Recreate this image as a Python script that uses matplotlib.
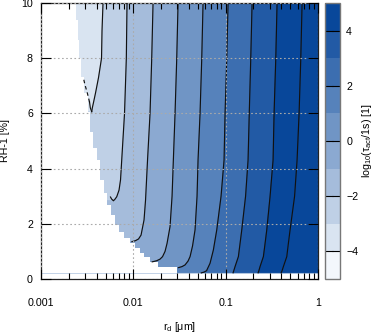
import numpy as np
import matplotlib
matplotlib.use("Agg")
import matplotlib.pyplot as plt
from matplotlib.colors import LinearSegmentedColormap, ListedColormap, BoundaryNorm
from matplotlib.cm import ScalarMappable
from matplotlib.ticker import LogLocator, FixedLocator, FixedFormatter, NullFormatter

plt.rcParams['font.family'] = ['Liberation Sans', 'DejaVu Sans']
plt.rcParams['mathtext.fontset'] = 'custom'
plt.rcParams['mathtext.rm'] = 'Liberation Sans'
plt.rcParams['mathtext.it'] = 'Liberation Sans:italic'
plt.rcParams['mathtext.bf'] = 'Liberation Sans:bold'

# ---------------- data ----------------
# contour levels of log10(tau_act / 1 s)
levels = [-3, -2, -1, 0, 1, 2, 3, 4, 5]

# each contour line from the top of the plot down to its lowest point (RH-1 [%], r_d [um])
line_rh = [
    [10, 9, 8, 7.3, 6.74, 6.4, 6.2, 6.06],
    [10, 8, 6, 4.31, 3.59, 3.22, 2.98, 2.87, 2.84],
    [10, 8, 6, 4.31, 2.86, 2.14, 1.59, 1.45, 1.39, 1.35],
    [10, 8, 6, 4.31, 3, 1.9, 1.29, 1.0, 0.81, 0.72, 0.66, 0.62],
    [10, 8, 6, 4.31, 3, 1.78, 1.2, 0.81, 0.65, 0.51, 0.45, 0.41],
    [10, 8, 6, 4.31, 3, 1.78, 1.05, 0.57, 0.3, 0.25, 0.22],
    [10, 8, 6, 4.31, 3, 1.78, 1.29, 0.81, 0.45, 0.3, 0.22],
    [10, 8, 6, 4.31, 3, 1.78, 1.29, 0.81, 0.45, 0.3, 0.22],
    [10, 8, 6, 4.31, 3, 1.78, 1.29, 0.81, 0.45, 0.3, 0.22],
]
line_rd = [
    [0.004695, 0.00458, 0.004524, 0.004198, 0.003895, 0.003706, 0.003596, 0.003543],
    [0.008545, 0.008397, 0.008028, 0.007486, 0.007266, 0.0070, 0.00661, 0.006256, 0.006071],
    [0.01635, 0.01582, 0.01517, 0.01425, 0.01356, 0.01306, 0.01212, 0.01138, 0.01056, 0.009607],
    [0.0305, 0.02952, 0.0283, 0.02713, 0.02627, 0.02498, 0.02318, 0.02205, 0.02072, 0.01946, 0.01784, 0.01594],
    [0.05689, 0.05508, 0.0528, 0.05022, 0.04898, 0.0466, 0.04379, 0.04115, 0.03914, 0.03632, 0.0337, 0.03073],
    [0.1062, 0.1028, 0.09851, 0.09607, 0.08915, 0.08009, 0.07357, 0.06774, 0.06209, 0.05833, 0.05412],
    [0.1932, 0.187, 0.1801, 0.1748, 0.1643, 0.1494, 0.1432, 0.1373, 0.1264, 0.1224, 0.1202],
    [0.3604, 0.3489, 0.3344, 0.3262, 0.3027, 0.2787, 0.2672, 0.2561, 0.2358, 0.2288, 0.2244],
    [0.6725, 0.651, 0.624, 0.5935, 0.5577, 0.4985, 0.4777, 0.459, 0.4218, 0.4083, 0.3983],
]

# short left-going tails of the J-shaped contours (level -3 and -2)
tail_m3_rh = [6.06, 6.2, 6.41]
tail_m3_rd = [0.003543, 0.003421, 0.003354]
branch_m3_rh = [6.41, 6.74, 7.03, 7.3]
branch_m3_rd = [0.003354, 0.003174, 0.002997, 0.002872]
tail_m2_rh = [2.84, 2.9, 2.97]
tail_m2_rd = [0.006071, 0.005805, 0.005662]

# edge of the non-activating (white) region: for RH-1 >= edge_rh[i] up to the next value
edge_rh = [0.22, 0.43, 0.62, 0.80, 0.94, 1.12, 1.30, 1.49, 1.70, 1.96, 2.32, 2.68,
           3.12, 3.59, 4.31, 4.75, 5.33, 6.05, 6.74, 7.32, 8.01, 8.66, 9.38, 10.0]
edge_rd = [0.0298, 0.0185, 0.0150, 0.0132, 0.0117, 0.0103, 0.0091, 0.0080, 0.0070, 0.0063,
           0.0058, 0.0052, 0.0048, 0.0044, 0.0040, 0.0037, 0.0034, 0.0032, 0.0029, 0.0027,
           0.0026, 0.0025, 0.0024, 0.0024]

band_edges = [-5, -4, -3, -2, -1, 0, 1, 2, 3, 4, 5]
x_ticks = [0.001, 0.01, 0.1, 1]
x_ticklabels = ['0.001', '0.01', '0.1', '1']
y_ticks = [0, 2, 4, 6, 8, 10]
cbar_ticks = [-4, -2, 0, 2, 4]

# ---------------- figure ----------------
W, H = 374, 336
fig = plt.figure(figsize=(W / 100, H / 100), dpi=100)
ax = fig.add_axes([41 / W, 1 - 279 / H, 277 / W, 276 / H])
cax = fig.add_axes([325 / W, 1 - 279 / H, 15 / W, 276 / H])

xmin, xmax = 0.001, 1.0
ymin, ymax = 0.0, 10.0
ax.set_xscale('log')
ax.set_xlim(xmin, xmax)
ax.set_ylim(ymin, ymax)

base = LinearSegmentedColormap.from_list('tau', ['#f3f7fc', '#08479a'])
band_cmap = ListedColormap(base(np.linspace(0, 1, len(band_edges) - 1)))
norm = BoundaryNorm(band_edges, band_cmap.N)

def band_color(v):
    return band_cmap(norm(v))

# filled bands between consecutive contour lines
n = len(levels)
for i in range(n + 1):
    pts = []
    if i == 0:
        pts.append((xmin, ymax))
        left_bottom = ymax
        color = band_color(levels[0] - 0.5)
    else:
        pts += list(zip(line_rd[i - 1], line_rh[i - 1]))
        left_bottom = line_rh[i - 1][-1]
        color = band_color(min(levels[i - 1] + 0.5, band_edges[-1] - 0.5))
    if i < n:
        right_bottom = line_rh[i][-1]
        if left_bottom > right_bottom:
            pts += [(xmin, left_bottom), (xmin, right_bottom)]
        pts += list(zip(line_rd[i], line_rh[i]))[::-1]
    else:
        pts += [(xmax, left_bottom), (xmax, ymax)]
    xs, ys = zip(*pts)
    ax.fill(xs, ys, facecolor=color, edgecolor=color, linewidth=0.6, zorder=1)

# non-activating region
ax.fill_betweenx(edge_rh, xmin, edge_rd, step='post', facecolor='white',
                 edgecolor='none', zorder=1.5)

# contour lines
lc = '#111111'
for rd, rh in zip(line_rd, line_rh):
    ax.plot(rd, rh, color=lc, lw=0.85, zorder=2, solid_capstyle='round')
ax.plot(tail_m3_rd, tail_m3_rh, color=lc, lw=0.85, zorder=2)
ax.plot(tail_m2_rd, tail_m2_rh, color=lc, lw=0.85, zorder=2)
ax.plot(branch_m3_rd, branch_m3_rh, color=lc, lw=0.85, zorder=2,
        linestyle=(0, (3.0, 2.5)))

# axes styling
fs = 7.7
ax.set_axisbelow(False)
ax.xaxis.set_major_locator(FixedLocator(x_ticks))
ax.xaxis.set_major_formatter(FixedFormatter(x_ticklabels))
ax.xaxis.set_minor_locator(LogLocator(base=10, subs=np.arange(2, 10)))
ax.xaxis.set_minor_formatter(NullFormatter())
ax.set_yticks(y_ticks)
ax.tick_params(which='major', direction='in', length=7, width=0.8, top=True, right=True,
               labelsize=fs, color='black')
ax.tick_params(which='minor', direction='in', length=4, width=0.8, top=True, right=True,
               color='black')
ax.tick_params(axis='x', which='major', pad=13.5)
ax.tick_params(axis='y', which='major', pad=5.8)
ax.grid(True, which='major', color='#aaaaaa', linestyle=(0, (1.5, 2.2)), linewidth=0.8)
for s in ax.spines.values():
    s.set_color('#222222')
    s.set_linewidth(0.9)

ax.set_xlabel(r'r$_{\rm d}$ [μm]', fontsize=fs, labelpad=9)
ax.set_ylabel('RH-1 [%]', fontsize=fs, labelpad=8)

# colorbar
cb = fig.colorbar(ScalarMappable(norm=norm, cmap=band_cmap), cax=cax, ticks=cbar_ticks)
cb.outline.set_edgecolor('#777777')
cb.outline.set_linewidth(1.0)
cax.tick_params(direction='in', length=6, width=0.8, left=True, right=True,
                labelsize=fs, pad=4.5, color='black')
cax.minorticks_off()
cb.set_label(r'log$_{10}$(τ$_{\rm act}$/1s) [1]', fontsize=fs, labelpad=1)

fig.savefig('out.png', dpi=100)
